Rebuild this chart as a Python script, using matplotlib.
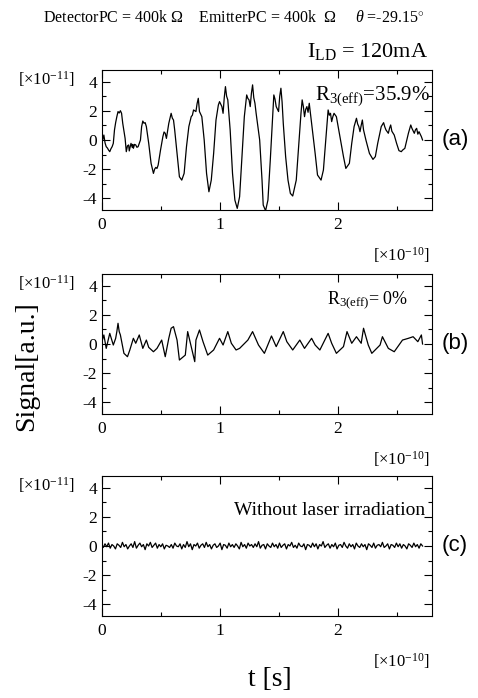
import numpy as np
import matplotlib
matplotlib.use("Agg")
import matplotlib.pyplot as plt
from matplotlib.ticker import MultipleLocator

plt.rcParams['font.family'] = ['Liberation Serif', 'DejaVu Serif']
plt.rcParams['mathtext.fontset'] = 'custom'
plt.rcParams['mathtext.rm'] = 'Liberation Serif'
plt.rcParams['mathtext.it'] = 'Liberation Serif:italic'
plt.rcParams['mathtext.bf'] = 'Liberation Serif:bold'
plt.rcParams['axes.unicode_minus'] = False

# DATA (t in units of 1e-10 s, signal in units of 1e-11)
# (a) R3(eff)=35.9%
a_t = [0.00, 0.005, 0.01, 0.02, 0.03, 0.04, 0.05, 0.06, 0.07, 0.08, 0.09, 0.10, 0.11, 0.12, 0.13,
       0.14, 0.15, 0.16, 0.17, 0.18, 0.20, 0.21, 0.22, 0.23, 0.235, 0.24, 0.25, 0.26, 0.265, 0.27,
       0.28, 0.29, 0.30, 0.31, 0.33, 0.34, 0.35, 0.36, 0.37, 0.38, 0.40, 0.42, 0.44, 0.45, 0.46,
       0.47, 0.48, 0.50, 0.52, 0.53, 0.54, 0.55, 0.57, 0.58, 0.59, 0.60, 0.61, 0.62, 0.64, 0.66,
       0.68, 0.70, 0.72, 0.74, 0.76, 0.77, 0.78, 0.80, 0.81, 0.82, 0.83, 0.85, 0.87, 0.89, 0.91,
       0.93, 0.95, 0.97, 0.99, 1.00, 1.02, 1.03, 1.04, 1.05, 1.06, 1.07, 1.09, 1.11, 1.13, 1.15,
       1.17, 1.19, 1.21, 1.23, 1.24, 1.25, 1.26, 1.27, 1.28, 1.29, 1.30, 1.31, 1.34, 1.36, 1.37,
       1.39, 1.41, 1.43, 1.45, 1.46, 1.47, 1.48, 1.50, 1.51, 1.52, 1.53, 1.54, 1.56, 1.58, 1.60,
       1.62, 1.65, 1.67, 1.69, 1.70, 1.71, 1.72, 1.73, 1.74, 1.75, 1.76, 1.78, 1.81, 1.83, 1.86,
       1.88, 1.90, 1.92, 1.93, 1.94, 1.95, 1.96, 1.97, 1.99, 2.02, 2.05, 2.07, 2.10, 2.12, 2.14,
       2.15, 2.16, 2.17, 2.18, 2.19, 2.20, 2.21, 2.22, 2.24, 2.27, 2.30, 2.32, 2.34, 2.37, 2.39,
       2.40, 2.41, 2.43, 2.44, 2.45, 2.46, 2.48, 2.50, 2.52, 2.54, 2.55, 2.57, 2.60, 2.62, 2.63,
       2.65, 2.66, 2.67, 2.68, 2.69, 2.71, 2.72]
a_y = [0.69, 0.30, 0.0, 0.34, -0.20, -0.46, -0.55, -0.69, -0.80, -0.60, -0.46, -0.23, 0.69, 1.20, 1.60,
       1.95, 1.85, 2.01, 1.83, 1.14, 0.11, -0.80, -0.40, -0.34, -0.75, -0.57, -0.23, -0.50, -0.30, -0.57,
       -0.30, -0.34, -0.50, -0.46, 0.0, 0.92, 1.30, 1.15, 1.19, 0.92, -0.23, -1.60, -2.29, -2.00, -1.88,
       -1.95, -1.72, -0.69, 0.23, 0.55, 0.46, 0.11, 1.14, 1.50, 1.83, 1.50, 1.37, 0.69, -0.92, -2.52,
       -2.75, -2.29, -0.46, 0.92, 1.60, 1.70, 2.06, 1.95, 2.50, 2.86, 1.95, 1.60, 0.0, -2.29, -3.55,
       -2.75, -0.92, 1.37, 2.40, 2.63, 2.29, 1.83, 2.90, 3.66, 3.00, 2.75, 0.69, -2.29, -4.12, -4.69,
       -3.89, -1.14, 1.60, 3.09, 2.85, 2.75, 2.29, 3.20, 3.78, 2.90, 2.52, 1.83, 0.0, -2.75, -4.46,
       -4.85, -4.12, -1.37, 1.60, 3.09, 2.80, 2.29, 1.95, 3.00, 3.55, 2.60, 1.14, -1.14, -2.75, -3.66,
       -3.84, -2.75, -0.46, 1.83, 2.75, 2.30, 1.60, 2.10, 2.29, 1.90, 2.52, 1.14, -0.92, -2.40, -2.75,
       -2.06, 0.0, 2.06, 1.70, 1.83, 1.26, 1.60, 1.83, 1.60, 0.23, -1.14, -1.95, -1.60, -0.23, 0.92,
       1.20, 1.49, 1.10, 0.92, 0.57, 1.00, 1.37, 0.69, 0.0, -0.92, -1.33, -1.14, -0.23, 0.92, 1.19,
       0.90, 0.69, 0.46, 0.80, 1.03, 0.60, 0.34, -0.23, -0.73, -0.80, -0.70, -0.57, 0.46, 1.03, 0.80,
       0.46, 0.70, 0.80, 0.40, 0.57, 0.23, 0.0]

# (b) R3(eff)=0%
b_t = [0.00, 0.02, 0.04, 0.07, 0.10, 0.12, 0.13, 0.14, 0.15, 0.16, 0.19, 0.22, 0.24, 0.27, 0.29,
       0.32, 0.35, 0.38, 0.40, 0.44, 0.47, 0.51, 0.54, 0.57, 0.59, 0.61, 0.64, 0.66, 0.71, 0.73,
       0.76, 0.79, 0.80, 0.83, 0.86, 0.90, 0.95, 1.00, 1.03, 1.07, 1.10, 1.14, 1.17, 1.24, 1.28,
       1.33, 1.38, 1.44, 1.48, 1.54, 1.57, 1.62, 1.68, 1.72, 1.78, 1.81, 1.85, 1.92, 1.95, 1.99,
       2.05, 2.08, 2.12, 2.16, 2.20, 2.22, 2.26, 2.29, 2.36, 2.38, 2.43, 2.48, 2.55, 2.60, 2.64,
       2.68, 2.71, 2.72]
b_y = [0.05, 0.62, -0.30, 0.73, -0.07, 0.39, 0.85, 1.42, 0.85, 0.62, -0.64, -0.87, -0.41, 0.39, 0.05,
       0.62, -0.30, 0.27, -0.23, -0.53, -0.30, 0.27, -0.87, 0.39, 1.08, 1.19, 0.27, -1.10, -0.76, 0.85,
       -0.18, -1.21, 0.27, 0.96, 0.16, -0.76, -0.41, 0.39, -0.07, 0.85, 0.05, -0.41, -0.30, 0.27, 0.85,
       -0.07, -0.64, 0.55, -0.18, 0.85, 0.16, -0.41, 0.27, -0.30, 0.39, -0.07, -0.41, 0.73, 0.05, -0.64,
       -0.18, 0.85, 0.05, 0.50, 0.05, 1.08, -0.07, -0.64, -0.07, 0.50, -0.30, -0.53, 0.27, 0.39, 0.50,
       0.16, 0.62, 0.0]

# (c) without laser irradiation (uniformly sampled)
c_t_start, c_t_end = 0.0, 2.72
c_y = [0.05, -0.1, 0.15, -0.05, 0.2, -0.15, 0.1, 0.0, -0.2, 0.15, 0.05, -0.1, 0.25, -0.05, 0.1,
       -0.2, 0.0, 0.15, -0.1, 0.3, -0.15, 0.05, 0.2, -0.05, 0.1, -0.25, 0.15, 0.0, 0.25, -0.1,
       0.05, 0.2, -0.15, 0.1, -0.05, 0.15, -0.2, 0.05, 0.0, -0.1, 0.1, -0.15, 0.2, 0.0, -0.05,
       0.15, -0.2, 0.1, -0.1, 0.3, -0.05, 0.15, -0.25, 0.1, 0.0, 0.2, -0.15, 0.05, 0.15, -0.1,
       0.25, -0.05, 0.1, -0.2, 0.05, 0.15, -0.1, 0.0, 0.2, -0.25, 0.1, 0.05, -0.15, 0.2, -0.05,
       0.1, -0.1, 0.15, 0.0, -0.2, 0.25, -0.05, 0.1, -0.15, 0.2, 0.0, 0.1, -0.1, 0.15, -0.05,
       0.3, -0.15, 0.05, 0.1, -0.2, 0.15, 0.0, -0.1, 0.2, -0.05, 0.1, -0.15, 0.2, -0.1, 0.05,
       0.15, -0.2, 0.1, 0.0, 0.25, -0.1, 0.05, -0.15, 0.2, 0.0, -0.05, 0.15, -0.25, 0.1, 0.05,
       -0.1, 0.2, -0.05, 0.15, -0.2, 0.1, 0.0, 0.3, -0.1, 0.05, 0.15, -0.15, 0.1, -0.05, 0.2,
       -0.2, 0.05, 0.1, -0.1, 0.25, 0.0, -0.15, 0.15, -0.05, 0.1, -0.2, 0.2, 0.0, -0.1, 0.15,
       -0.05, 0.1, -0.25, 0.15, 0.05, -0.1, 0.2, -0.15, 0.05, 0.1, -0.05, 0.25, -0.1, 0.0, 0.15,
       -0.2, 0.1, 0.05, -0.1, 0.2, -0.05, 0.15, -0.15, 0.1, 0.0, -0.2, 0.15, 0.05, -0.1, 0.2,
       -0.05, 0.1, -0.15, 0.15, 0.0]
c_t = np.linspace(c_t_start, c_t_end, len(c_y))

panel_labels = ['(a)', '(b)', '(c)']

fig = plt.figure(figsize=(4.78, 6.98), dpi=100)
W, H = 478.0, 698.0
left, right = 101.5, 432.0
tops = [70, 274, 476]
ph = 140

series = [(a_t, a_y), (b_t, b_y), (c_t, c_y)]
axes = []
for i, (tt, yy) in enumerate(series):
    ax = fig.add_axes([left / W, 1 - (tops[i] + ph) / H, (right - left) / W, ph / H])
    ax.plot(tt, yy, color='black', lw=0.9)
    ax.set_xlim(0, 2.8)
    ax.set_ylim(-4.8, 4.8)
    ax.xaxis.set_major_locator(MultipleLocator(1))
    ax.xaxis.set_minor_locator(MultipleLocator(0.5))
    ax.yaxis.set_major_locator(MultipleLocator(2))
    ax.yaxis.set_minor_locator(MultipleLocator(1))
    ax.tick_params(which='both', direction='in', top=True, right=True, labelsize=12.5, width=0.8)
    ax.tick_params(which='major', length=5.5)
    ax.tick_params(which='minor', length=3)
    ax.tick_params(axis='x', pad=5)
    ax.tick_params(axis='y', pad=3)
    for s in ax.spines.values():
        s.set_linewidth(0.8)
    ax.text(-0.23, 4.15, '[×10$^{-11}$]', ha='right', va='center', fontsize=12, clip_on=False)
    ax.text(0.992, -0.32, '[×10$^{-10}$]', ha='right', va='center', fontsize=12,
            transform=ax.transAxes)
    ax.text(1.03, 0.5, panel_labels[i], ha='left', va='center', fontsize=16,
            family=['Liberation Sans'], transform=ax.transAxes)
    axes.append(ax)

axes[0].text(2.78, 3.0, r'R$_{\mathrm{3(eff)}}$=35.9%', ha='right', va='center', fontsize=15)
axes[1].text(2.60, 3.0, r'R$_{\mathrm{3(eff)}}$= 0%', ha='right', va='center', fontsize=13)
axes[2].text(2.74, 2.45, 'Without laser irradiation', ha='right', va='center', fontsize=14)

fig.text(234 / W, 1 - 18 / H,
         r'DetectorPC = 400k $\Omega$    EmitterPC = 400k  $\Omega$     $\theta$ =-29.15$^{\circ}$',
         ha='center', va='center', fontsize=11.5)
fig.text(428 / W, 1 - 52 / H, r'I$_{\mathrm{LD}}$ = 120mA', ha='right', va='center', fontsize=16)
fig.text(27 / W, 1 - 366 / H, 'Signal[a.u.]', rotation=90, ha='center', va='center', fontsize=20)
fig.text(270 / W, 1 - 679 / H, 't [s]', ha='center', va='center', fontsize=20)

fig.savefig('out.png', dpi=100)
